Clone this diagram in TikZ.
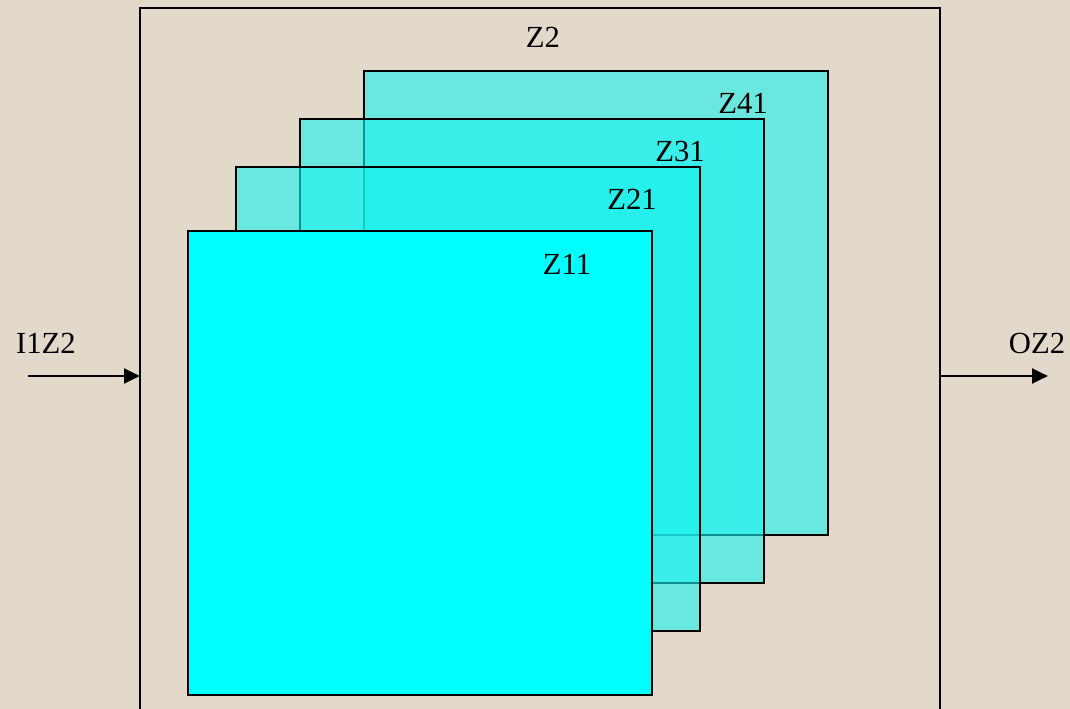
\documentclass[tikz,border=0pt]{standalone}
\usepackage{fontspec}
\setmainfont{Liberation Serif}
\usetikzlibrary{arrows.meta,calc}

\definecolor{paper}{RGB}{226,217,202}
\definecolor{glass}{RGB}{26,242,239}
\definecolor{aqua}{RGB}{0,255,255}

\begin{document}
\begin{tikzpicture}[x=0.75pt,y=-0.75pt]

    % velikost vrstvy (v px)
    \def\S{464}

    % styly
    \tikzset{
        frame/.style={draw=black, line width=2.2pt, inner sep=0pt, outer sep=0pt,
            anchor=north west, minimum width=600pt, minimum height=552pt},
        layer/.style={draw=black, line width=2.2pt, inner sep=0pt, outer sep=0pt,
            anchor=north west, minimum width=\S*0.75pt, minimum height=\S*0.75pt,
            fill=glass, fill opacity=0.6, draw opacity=1},
        tag/.style={font=\fontsize{23}{26}\selectfont, text=black, inner sep=0pt},
        flow/.style={line width=2.2pt, -{Triangle[length=12pt,width=11pt]}}
    }

    % pozadí
    \fill[paper] (0,0) rectangle (1070,709);
    \useasboundingbox (0,0) rectangle (1070,709);

    % vnější blok
    \node[frame] (z2) at (140,8) {};
    \node[tag] (z2t) at (543,37) {Z2};

    % vrstvy odzadu
    \node[layer] (z41) at (364,71) {};
    \node[layer] (z31) at (300,119) {};
    \node[layer] (z21) at (236,167) {};
    \node[layer, fill=aqua, fill opacity=1] (z11) at (188,231) {};

    % popisky vrstev (posun od pravého horního rohu)
    \foreach \z/\dx/\dy in {41/85/32, 31/84/32, 21/68/32, 11/85/33} {
        \node[tag] (z\z t) at ($(z\z.north east)+(-\dx,\dy)$) {Z\z};
    }

    % vstup a výstup
    \coordinate (in) at (28,376);
    \coordinate (out) at (1048,376);
    \draw[flow] (in) -- (z2.west |- in);
    \draw[flow] (z2.east |- out) -- (out);
    \node[tag] (i1z2) at (46,343) {I1Z2};
    \node[tag] (oz2) at (1037,343) {OZ2};

\end{tikzpicture}
\end{document}
